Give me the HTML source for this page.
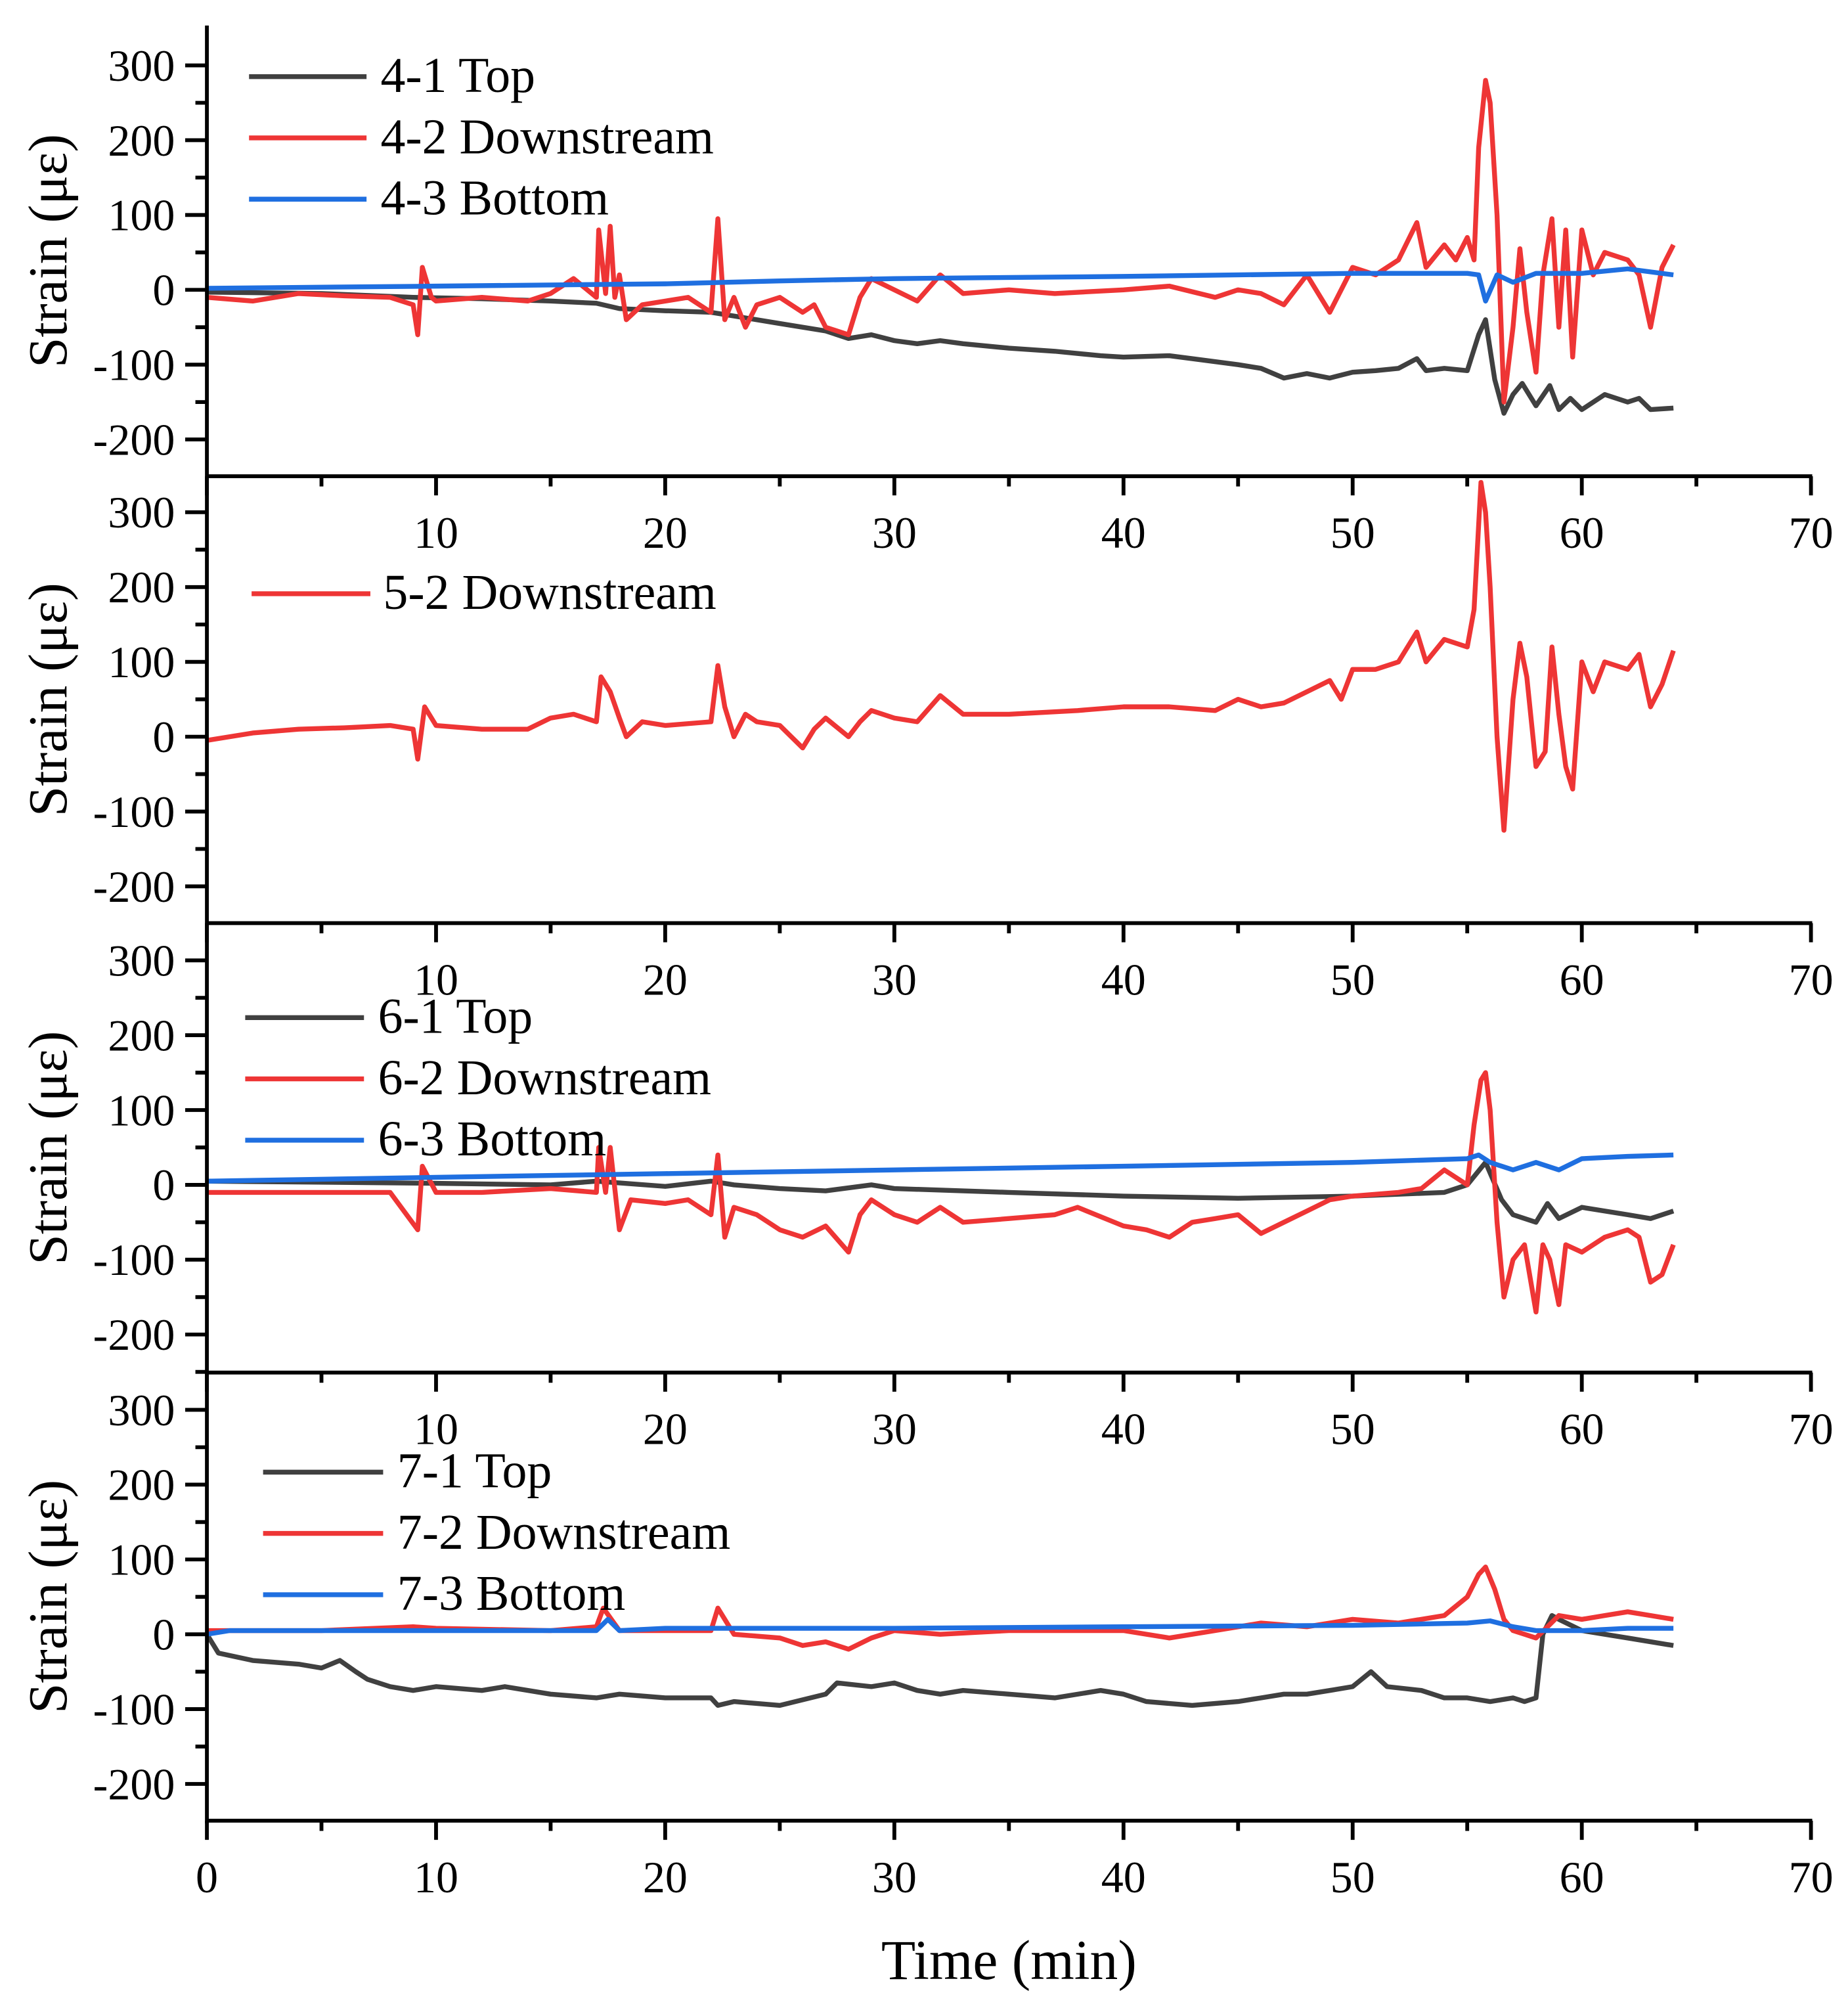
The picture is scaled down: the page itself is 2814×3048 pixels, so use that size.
<!DOCTYPE html>
<html><head><meta charset="utf-8"><style>
html,body{margin:0;padding:0;background:#fff;}
svg{display:block;}
text{font-family:"Liberation Serif",serif;fill:#000;}
</style></head><body>
<svg id="chart" width="2814" height="3048" viewBox="0 0 1447 1568" preserveAspectRatio="none" xmlns="http://www.w3.org/2000/svg"></svg>
<script>
// ---- data ----
const xTicks=[0,10,20,30,40,50,60,70];
const yTicks=[300,200,100,0,-100,-200];
const s41=[[0,-3],[5,-5],[9,-10],[12,-12],[15,-15],[17,-18],[18,-25],[20,-28],[22,-30],[23,-35],[25,-45],[27,-55],[28,-65],[29,-60],[30,-68],[31,-72],[32,-68],[33,-72],[35,-78],[37,-82],[39,-88],[40,-90],[42,-88],[43,-92],[45,-100],[46,-105],[47,-118],[48,-112],[49,-118],[50,-110],[51,-108],[52,-105],[52.8,-92],[53.2,-108],[54,-105],[55,-108],[55.5,-60],[55.8,-40],[56.2,-120],[56.6,-165],[57,-140],[57.4,-125],[58,-155],[58.6,-128],[59,-160],[59.5,-145],[60,-160],[61,-140],[62,-150],[62.5,-145],[63,-160],[64,-158]];
const s42=[[0,-10],[2,-15],[4,-5],[6,-8],[8,-10],[9,-20],[9.2,-60],[9.4,30],[9.8,-10],[10,-15],[12,-10],[14,-15],[15,-5],[16,15],[17,-10],[17.1,80],[17.4,-5],[17.6,85],[17.8,-10],[18,20],[18.3,-40],[19,-20],[20,-15],[21,-10],[22,-30],[22.3,95],[22.6,-40],[23,-10],[23.5,-50],[24,-20],[25,-10],[26,-30],[26.5,-20],[27,-50],[28,-60],[28.5,-10],[29,15],[30,0],[31,-15],[32,20],[33,-5],[35,0],[37,-5],[40,0],[42,5],[44,-10],[45,0],[46,-5],[47,-20],[48,20],[49,-30],[50,30],[51,20],[52,40],[52.8,90],[53.2,30],[54,60],[54.5,40],[55,70],[55.3,40],[55.5,190],[55.8,280],[56,250],[56.3,100],[56.6,-150],[57,-50],[57.3,55],[57.6,-30],[58,-110],[58.3,20],[58.7,95],[59,-50],[59.3,80],[59.6,-90],[60,80],[60.5,20],[61,50],[62,40],[62.5,20],[63,-50],[63.5,30],[64,60]];
const s43=[[0,2],[10,5],[20,8],[25,12],[30,15],[40,18],[50,22],[55,22],[55.5,20],[55.8,-15],[56.3,20],[57,10],[58,22],[60,22],[62,28],[64,20]];
const s52=[[0,-5],[2,5],[4,10],[6,12],[8,15],[9,10],[9.2,-30],[9.5,40],[10,15],[12,10],[14,10],[15,25],[16,30],[17,20],[17.2,80],[17.6,60],[18,25],[18.3,0],[19,20],[20,15],[22,20],[22.3,95],[22.6,40],[23,0],[23.5,30],[24,20],[25,15],[26,-15],[26.5,10],[27,25],[28,0],[28.5,20],[29,35],[30,25],[31,20],[32,55],[33,30],[35,30],[38,35],[40,40],[42,40],[44,35],[45,50],[46,40],[47,45],[48,60],[49,75],[49.5,50],[50,90],[51,90],[52,100],[52.8,140],[53.2,100],[54,130],[55,120],[55.3,170],[55.6,340],[55.8,300],[56,200],[56.3,0],[56.6,-125],[57,50],[57.3,125],[57.6,80],[58,-40],[58.4,-20],[58.7,120],[59,30],[59.3,-40],[59.6,-70],[60,100],[60.5,60],[61,100],[62,90],[62.5,110],[63,40],[63.5,70],[64,115]];
const s61=[[0,5],[10,2],[15,0],[17,5],[20,-2],[22,5],[23,0],[25,-5],[27,-8],[29,0],[30,-5],[35,-10],[40,-15],[45,-18],[50,-15],[54,-10],[55,0],[55.8,30],[56.5,-20],[57,-40],[58,-50],[58.5,-25],[59,-45],[60,-30],[62,-40],[63,-45],[64,-35]];
const s62=[[0,-10],[5,-10],[8,-10],[9.2,-60],[9.4,25],[10,-10],[12,-10],[15,-5],[17,-10],[17.1,50],[17.4,-10],[17.6,50],[18,-60],[18.5,-20],[20,-25],[21,-20],[22,-40],[22.3,40],[22.6,-70],[23,-30],[24,-40],[25,-60],[26,-70],[27,-55],[28,-90],[28.5,-40],[29,-20],[30,-40],[31,-50],[32,-30],[33,-50],[35,-45],[37,-40],[38,-30],[40,-55],[41,-60],[42,-70],[43,-50],[44,-45],[45,-40],[46,-65],[47,-50],[48,-35],[49,-20],[50,-15],[52,-10],[53,-5],[54,20],[55,0],[55.3,80],[55.6,140],[55.8,150],[56,100],[56.3,-50],[56.6,-150],[57,-100],[57.5,-80],[58,-170],[58.3,-80],[58.6,-100],[59,-160],[59.3,-80],[60,-90],[61,-70],[62,-60],[62.5,-70],[63,-130],[63.5,-120],[64,-80]];
const s63=[[0,5],[10,10],[20,15],[30,20],[40,25],[50,30],[55,35],[55.5,40],[56,30],[57,20],[58,30],[59,20],[60,35],[62,38],[64,40]];
const s71=[[0,0],[0.5,-25],[2,-35],[4,-40],[5,-45],[5.8,-35],[6.5,-50],[7,-60],[8,-70],[9,-75],[10,-70],[12,-75],[13,-70],[15,-80],[17,-85],[18,-80],[20,-85],[22,-85],[22.3,-95],[23,-90],[25,-95],[27,-80],[27.5,-65],[29,-70],[30,-65],[31,-75],[32,-80],[33,-75],[35,-80],[37,-85],[39,-75],[40,-80],[41,-90],[43,-95],[45,-90],[46,-85],[47,-80],[48,-80],[49,-75],[50,-70],[50.8,-50],[51.5,-70],[53,-75],[54,-85],[55,-85],[56,-90],[57,-85],[57.5,-90],[58,-85],[58.3,0],[58.7,25],[59,20],[60,5],[62,-5],[64,-15]];
const s72=[[0,5],[5,5],[9,10],[10,8],[15,5],[17,10],[17.3,35],[18,5],[20,5],[22,5],[22.3,35],[23,0],[25,-5],[26,-15],[27,-10],[28,-20],[29,-5],[30,5],[32,0],[35,5],[40,5],[42,-5],[44,5],[46,15],[48,10],[50,20],[52,15],[54,25],[55,50],[55.5,80],[55.8,90],[56.2,60],[56.6,20],[57,5],[57.5,0],[58,-5],[58.5,10],[59,25],[60,20],[61,25],[62,30],[63,25],[64,20]];
const s73=[[0,0],[1,5],[10,5],[17,5],[17.5,20],[18,5],[20,8],[30,8],[40,10],[50,12],[55,15],[56,18],[57,10],[58,5],[60,5],[62,8],[64,8]];

const GRAY="#404040",RED="#ee3535",BLUE="#1f6fe0";
const panels=[
 {name:"panel-4",zero:227,bottom:373,top:20,legX:[195,287,298],series:[["4-1 Top",s41,GRAY,60],["4-2 Downstream",s42,RED,108],["4-3 Bottom",s43,BLUE,156]],zeroLabel:false},
 {name:"panel-5",zero:577,bottom:723,top:373,legX:[197,290,300],series:[["5-2 Downstream",s52,RED,465]],zeroLabel:false},
 {name:"panel-6",zero:928,bottom:1075,top:723,legX:[192,285,296],series:[["6-1 Top",s61,GRAY,797],["6-2 Downstream",s62,RED,845],["6-3 Bottom",s63,BLUE,893]],zeroLabel:false},
 {name:"panel-7",zero:1280,bottom:1426,top:1075,legX:[206,300,311],series:[["7-1 Top",s71,GRAY,1153],["7-2 Downstream",s72,RED,1201],["7-3 Bottom",s73,BLUE,1249]],zeroLabel:true}
];
const X0=162,X1=1418,PX=(X1-X0)/70,PY=58.6;
const xs=t=>X0+t*PX;
const NS="http://www.w3.org/2000/svg";
const svg=document.getElementById("chart");
function mk(tag,attrs,parent){const e=document.createElementNS(NS,tag);for(const k in attrs)e.setAttribute(k,attrs[k]);(parent||svg).appendChild(e);return e;}

panels.forEach((p,pi)=>{
 const ys=v=>p.zero-v*PY/100;
 const g=mk("g",{});
 
 
 p.series.forEach(s=>{
  const d=s[1].map((pt,i)=>(i?"L":"M")+xs(pt[0]).toFixed(1)+" "+ys(pt[1]).toFixed(1)).join("");
  const path=mk("path",{d:d,fill:"none",stroke:s[2],"stroke-width":3.8,"stroke-linejoin":"round"},g);
  
  
  const lg=mk("g",{},g);
  
  
  mk("line",{x1:p.legX[0],x2:p.legX[1],y1:s[3],y2:s[3],stroke:s[2],"stroke-width":3.8},lg);
  const t=mk("text",{x:p.legX[2],y:s[3]+12,"font-size":39},lg);t.textContent=s[0];
 });
 yTicks.forEach(v=>{
  const y=ys(v);
  mk("line",{x1:X0-17,x2:X0,y1:y,y2:y,stroke:"#000","stroke-width":3},g);
  const t=mk("text",{x:X0-25,y:y+12,"font-size":35,"text-anchor":"end"},g);t.textContent=v;
  
  
 });
 for(let v=-250;v<=300;v+=100){const y=ys(v);if(y>p.top&&y<p.bottom)mk("line",{x1:X0-9,x2:X0,y1:y,y2:y,stroke:"#000","stroke-width":3},g);}
 mk("line",{x1:X0,x2:X1+1,y1:p.bottom,y2:p.bottom,stroke:"#000","stroke-width":3},g);
 xTicks.forEach(v=>{
  const x=xs(v);
  mk("line",{x1:x,x2:x,y1:p.bottom,y2:p.bottom+15,stroke:"#000","stroke-width":3},g);
  if(v===0&&!p.zeroLabel)return;
  const t=mk("text",{x:x,y:p.bottom+56,"font-size":35,"text-anchor":"middle"},g);t.textContent=v;
  
  
 });
 for(let v=5;v<70;v+=10){const x=xs(v);mk("line",{x1:x,x2:x,y1:p.bottom,y2:p.bottom+8,stroke:"#000","stroke-width":3},g);}
 const yt=mk("text",{x:0,y:0,"font-size":43,"text-anchor":"middle",transform:`translate(52,${(p.top+p.bottom)/2}) rotate(-90)`},g);
 yt.textContent="Strain (με)";
 
 
});
mk("line",{x1:X0,x2:X0,y1:20,y2:1428,stroke:"#000","stroke-width":3});
const xt=mk("text",{x:790,y:1550,"font-size":44,"text-anchor":"middle"});
xt.textContent="Time (min)";


</script>
</body></html>
